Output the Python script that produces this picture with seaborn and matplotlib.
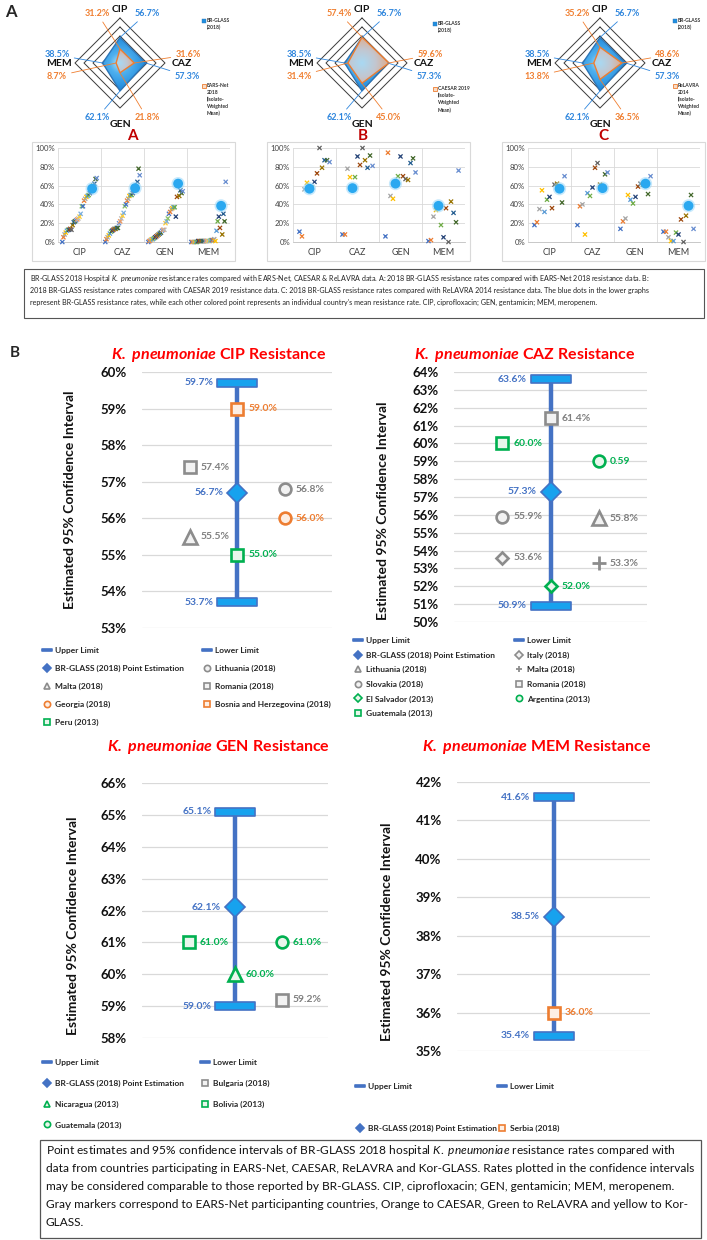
import numpy as np
import pandas as pd
import seaborn as sns
import matplotlib.pyplot as plt
from matplotlib.path import Path
from matplotlib.patches import Polygon, Rectangle
from matplotlib.lines import Line2D
from matplotlib.colors import LinearSegmentedColormap

sns.set_style("white")
plt.rcParams["font.family"] = ["Lato", "DejaVu Sans"]
plt.rcParams["mathtext.fontset"] = "custom"
plt.rcParams["mathtext.rm"] = "Lato"
plt.rcParams["mathtext.it"] = "Lato:italic"
plt.rcParams["mathtext.bf"] = "Lato:bold"
plt.rcParams["mathtext.bfit"] = "Lato:italic:bold"

# ---------------- data ----------------
DRUGS = ["CIP", "CAZ", "GEN", "MEM"]
BR_RATES = [56.7, 57.3, 62.1, 38.5]
EARS_RATES = [31.2, 31.6, 21.8, 8.7]
CAESAR_RATES = [57.4, 59.6, 45.0, 31.4]
RELAVRA_RATES = [35.2, 48.6, 36.5, 13.8]

# country means (lower graphs), one list per drug
EARS_CIP = [0, 5, 8, 10, 12, 13, 13, 14, 13, 18, 21, 22, 23, 24, 25, 27, 30, 38, 38, 44, 46, 48, 49, 50, 52, 55, 60, 62, 67, 68]
EARS_CAZ = [0, 3, 5, 7, 9, 11, 12, 13, 14, 14, 15, 15, 20, 22, 25, 28, 31, 38, 40, 44, 46, 49, 50, 50, 52, 55, 58, 64, 78, 71]
EARS_GEN = [0, 1, 2, 3, 3, 4, 5, 6, 7, 8, 9, 10, 12, 13, 13, 20, 22, 25, 30, 32, 35, 36, 37, 37, 27, 48, 49, 55, 52, 54]
EARS_MEM = [0, 0, 0, 0, 0, 0, 1, 1, 1, 1, 1, 1, 1, 1, 1, 1, 1, 2, 2, 2, 3, 1, 12, 22, 27, 15, 8, 30, 22, 64]

CAESAR_CIP = [11, 6, 56, 63, 58, 64, 73, 100, 79, 87, 87, 85]
CAESAR_CAZ = [8, 8, 78, 69, 69, 91, 82, 100, 87, 79, 92, 81]
CAESAR_GEN = [6, 95, 49, 46, 70, 91, 70, 67, 66, 84, 89, 74]
CAESAR_MEM = [1, 2, 27, 34, 18, 5, 36, 0, 43, 31, 21, 76]

RELAVRA_CIP = [18, 21, 35, 55, 32, 45, 48, 36, 61, 62, 42, 70]
RELAVRA_CAZ = [18, 38, 40, 8, 52, 49, 58, 79, 84, 61, 72, 74]
RELAVRA_GEN = [14, 22, 25, 50, 45, 41, 48, 59, 62, 61, 51, 70]
RELAVRA_MEM = [11, 11, 5, 1, 1, 10, 8, 24, 0, 28, 50, 14]

# confidence interval panels
CIP_NAMES = ["Upper Limit", "Lower Limit", "BR-GLASS (2018) Point Estimation", "Lithuania (2018)",
             "Malta (2018)", "Romania (2018)", "Georgia (2018)", "Bosnia and Herzegovina (2018)", "Peru (2013)"]
CIP_VALUES = [59.7, 53.7, 56.7, 56.8, 55.5, 57.4, 56.0, 59.0, 55.0]
CIP_SLOTS = [1, 1, 1, 1.5, 0.5, 0.5, 1.5, 1, 1]
CIP_NETS = ["BR", "BR", "BR", "EARS", "EARS", "EARS", "CAESAR", "CAESAR", "ReLAVRA"]

CAZ_NAMES = ["Upper Limit", "Lower Limit", "BR-GLASS (2018) Point Estimation", "Italy (2018)",
             "Lithuania (2018)", "Malta (2018)", "Slovakia (2018)", "Romania (2018)",
             "El Salvador (2013)", "Argentina (2013)", "Guatemala (2013)"]
CAZ_VALUES = [63.6, 50.9, 57.3, 53.6, 55.8, 53.3, 55.9, 61.4, 52.0, 59.0, 60.0]
CAZ_SLOTS = [1, 1, 1, 0.5, 1.5, 1.5, 0.5, 1, 1, 1.5, 0.5]
CAZ_NETS = ["BR", "BR", "BR", "EARS", "EARS", "EARS", "EARS", "EARS", "ReLAVRA", "ReLAVRA", "ReLAVRA"]

GEN_NAMES = ["Upper Limit", "Lower Limit", "BR-GLASS (2018) Point Estimation", "Bulgaria (2018)",
             "Nicaragua (2013)", "Bolivia (2013)", "Guatemala (2013)"]
GEN_VALUES = [65.1, 59.0, 62.1, 59.2, 60.0, 61.0, 61.0]
GEN_SLOTS = [1, 1, 1, 1.5, 1, 0.5, 1.5]
GEN_NETS = ["BR", "BR", "BR", "EARS", "ReLAVRA", "ReLAVRA", "ReLAVRA"]

MEM_NAMES = ["Upper Limit", "Lower Limit", "BR-GLASS (2018) Point Estimation", "Serbia (2018)"]
MEM_VALUES = [41.6, 35.4, 38.5, 36.0]
MEM_SLOTS = [1, 1, 1, 1]
MEM_NETS = ["BR", "BR", "BR", "CAESAR"]

LABEL_OVERRIDE = {("CAZ", "Argentina (2013)"): "0.59"}

# ---------------- styles ----------------
CIP_MARKS = ["cap", "cap", "point", "o", "^", "s", "o", "s", "s"]
CAZ_MARKS = ["cap", "cap", "point", "D", "^", "+", "o", "s", "D", "o", "s"]
GEN_MARKS = ["cap", "cap", "point", "s", "^", "s", "o"]
MEM_MARKS = ["cap", "cap", "point", "s"]

PALETTE = ["#4472C4", "#ED7D31", "#A5A5A5", "#FFC000", "#5B9BD5", "#70AD47",
           "#264478", "#9E480E", "#636363", "#997300", "#255E91", "#43682B",
           "#698ED0", "#F1975A", "#B7B7B7", "#FFCD33", "#7CAFDD", "#8CC168"]
NET_EDGE = {"BR": "#4472c4", "EARS": "#8c8c8c", "CAESAR": "#ed7d31", "ReLAVRA": "#00b050"}
NET_FILL = {"EARS": "#f2f2f2", "CAESAR": "#fdeee3", "ReLAVRA": "#e9f6ec"}
NET_TEXT = {"BR": "#4472c4", "EARS": "#7f7f7f", "CAESAR": "#ed7d31", "ReLAVRA": "#00b050"}
CAP = Path([(-3, -0.55), (3, -0.55), (3, 0.55), (-3, 0.55), (-3, -0.55)],
           [Path.MOVETO, Path.LINETO, Path.LINETO, Path.LINETO, Path.CLOSEPOLY])
SKY = "#17a2ee"

W, H = 707, 1240
fig = plt.figure(figsize=(W / 100, H / 100), dpi=100)


def fx(x):
    return x / W


def fy(y):
    return 1 - y / H


def px_axes(l, t, r, b):
    return fig.add_axes([l / W, 1 - b / H, (r - l) / W, (b - t) / H])


def box(l, t, r, b, color, lw):
    fig.add_artist(Rectangle((fx(l), fy(b)), (r - l) / W, (b - t) / H, transform=fig.transFigure,
                             fill=False, edgecolor=color, lw=lw))


# ---------------- radar charts ----------------
ANGLES = np.deg2rad([90, 0, -90, 180])
RING = np.deg2rad([90, 0, -90, 180, 90])
BR_LAB = [(0.6, 1.11), (1.49, -0.29), (-0.51, -1.22), (-1.4, 0.18)]
OT_LAB = [(-0.51, 1.11), (1.51, 0.18), (0.6, -1.22), (-1.4, -0.29)]
DRUG_LAB = [(0, 1.2), (1.38, 0), (0, -1.36), (-1.36, 0)]
blue_cm = LinearSegmentedColormap.from_list("b", [(0, "#b8e3f6"), (0.35, "#4fb0ee"), (1, "#1683da")])
oran_cm = LinearSegmentedColormap.from_list("o", [(0, "#a9d9f3"), (0.5, "#c3c6cf"), (1, "#e2a882")])
yy, xx = np.mgrid[-1:1:240j, -1:1:240j]
dist = np.hypot(xx, yy)


def radar(cx, cy, other, leg_dx, leg_y, leg_text, letter_x, letter):
    ax = px_axes(cx - 80, cy - 80, cx + 80, cy + 80)
    ax.axis("off")
    for lv in [0.2, 0.4, 0.6, 0.8, 1.0]:
        ax.plot(lv * np.cos(RING), lv * np.sin(RING), color="#3a3a3a", lw=0.7, zorder=1)
    for rates, cm, edge, z in [(BR_RATES, blue_cm, "#2e75b6", 2), (other, oran_cm, "#ed7d31", 4)]:
        r = np.array(rates) / 100
        pts = np.column_stack([r * np.cos(ANGLES), r * np.sin(ANGLES)])
        poly = Polygon(pts, closed=True, facecolor="none", edgecolor=edge, lw=1.0, zorder=z + 1)
        ax.add_patch(poly)
        im = ax.imshow(dist / r.max(), cmap=cm, vmin=0, vmax=1.05, extent=(-1, 1, -1, 1),
                       origin="lower", zorder=z, interpolation="bilinear")
        im.set_clip_path(poly)
    lim = 80 / 45
    ax.set_xlim(-lim, lim)
    ax.set_ylim(-lim, lim)
    for k in range(4):
        for rates, pos, col in [(BR_RATES, BR_LAB, "#2f86dd"), (other, OT_LAB, "#f07f30")]:
            v = rates[k] / 100
            ax.annotate(f"{rates[k]:.1f}%", xy=(v * np.cos(ANGLES[k]), v * np.sin(ANGLES[k])),
                        xytext=pos[k], ha="center", va="center", color=col, fontsize=6.5,
                        fontweight="bold", zorder=8,
                        arrowprops=dict(arrowstyle="-", color=col, lw=0.6, shrinkA=1, shrinkB=0))
        ax.text(*DRUG_LAB[k], DRUGS[k], ha="center", va="center", fontsize=7.5, fontweight="bold",
                color="#111111")
    lx = cx + leg_dx
    fig.add_artist(Rectangle((fx(lx - 2), fy(leg_y[0] + 2)), 4 / W, 4 / H, transform=fig.transFigure,
                             facecolor="#1f8fe0", edgecolor="#2e75b6", lw=0.3))
    fig.add_artist(Rectangle((fx(lx - 2), fy(leg_y[1] + 2)), 4 / W, 4 / H, transform=fig.transFigure,
                             facecolor="#f9dcc6", edgecolor="#ed7d31", lw=0.6))
    fig.text(fx(lx + 3), fy(leg_y[0] - 3), "BR-GLASS\n(2018)", fontsize=3.6, va="top",
             linespacing=1.45, color="#333333", fontweight="bold")
    fig.text(fx(lx + 3), fy(leg_y[1] - 3), leg_text, fontsize=3.6, va="top",
             linespacing=1.45, color="#333333", fontweight="bold")
    fig.text(fx(letter_x), fy(136), letter, fontsize=11, fontweight="bold", color="#c00000",
             ha="center", va="center")


radar(120, 63, EARS_RATES, 84, (21, 86), "EARS-Net\n2018\n(Isolate-\nWeighted\nMean)", 132, "A")
radar(362, 63, CAESAR_RATES, 73, (24, 89), "CAESAR 2019\n(Isolate-\nWeighted\nMean)", 363, "B")
radar(600, 63, RELAVRA_RATES, 75, (21, 86), "ReLAVRA\n2014\n(Isolate-\nWeighted\nMean)", 603, "C")
fig.text(fx(5), fy(12), "A", fontsize=12, fontweight="bold", va="center")


# ---------------- lower scatter graphs ----------------
def scatter_panel(x0, country_values, nslots, span, br_slot):
    box(x0 + 32, 142, x0 + 235, 261, "#d9d9d9", 0.8)
    ax = px_axes(x0 + 58, 148, x0 + 230, 242)
    offsets = np.linspace(-span, span, nslots)
    slots = [s for s in range(nslots) if s != br_slot]
    rows = []
    for j, vals in enumerate(country_values):
        for s, v in zip(slots, vals):
            rows.append({"x": j + offsets[s], "y": v, "slot": str(s)})
    df = pd.DataFrame(rows)
    pal = {str(s): PALETTE[s % len(PALETTE)] for s in slots}
    sns.scatterplot(data=df, x="x", y="y", hue="slot", palette=pal, marker="x", s=9, linewidth=0.9,
                    legend=False, ax=ax, zorder=3, clip_on=False)
    bx = np.arange(4) + offsets[br_slot]
    ax.scatter(bx, BR_RATES, s=90, color="#9ad8fb", alpha=0.55, edgecolors="none", zorder=4, clip_on=False)
    ax.scatter(bx, BR_RATES, s=50, color="#2aa8f0", edgecolors="none", zorder=5, clip_on=False)
    ax.set_xlim(-0.5, 3.5)
    ax.set_ylim(0, 100)
    ax.set_xticks(range(4))
    ax.set_xticklabels(DRUGS, fontsize=6.5, color="#404040")
    ax.set_xticks(np.arange(-0.5, 4, 1), minor=True)
    ax.set_yticks(range(0, 101, 20))
    ax.set_yticklabels([f"{v}%" for v in range(0, 101, 20)], fontsize=5.6, color="#404040")
    ax.grid(axis="y", which="major", color="#d9d9d9", lw=0.6)
    ax.grid(axis="x", which="minor", color="#d9d9d9", lw=0.6)
    ax.tick_params(which="both", length=0)
    ax.tick_params(axis="x", pad=4)
    ax.tick_params(axis="y", pad=2)
    ax.set_xlabel("")
    ax.set_ylabel("")
    for side, sp in ax.spines.items():
        sp.set_visible(side == "bottom")
    ax.spines["bottom"].set_color("#bfbfbf")
    ax.spines["bottom"].set_linewidth(0.6)


scatter_panel(0, [EARS_CIP, EARS_CAZ, EARS_GEN, EARS_MEM], 31, 0.4, 26)
scatter_panel(235, [CAESAR_CIP, CAESAR_CAZ, CAESAR_GEN, CAESAR_MEM], 13, 0.35, 4)
scatter_panel(470, [RELAVRA_CIP, RELAVRA_CAZ, RELAVRA_GEN, RELAVRA_MEM], 13, 0.35, 10)

box(24, 269, 704, 318, "#555555", 0.8)
cap_a = [
    r"BR-GLASS 2018 Hospital $\mathit{K.\ pneumoniae}$ resistance rates compared with EARS-Net, CAESAR & ReLAVRA data. A: 2018 BR-GLASS resistance rates compared with EARS-Net 2018 resistance data. B:",
    "2018 BR-GLASS resistance rates compared with CAESAR 2019 resistance data. C: 2018 BR-GLASS resistance rates compared with ReLAVRA 2014 resistance data. The blue dots in the lower graphs",
    "represent BR-GLASS resistance rates, while each other colored point represents an individual country's mean resistance rate. CIP, ciprofloxacin; GEN, gentamicin; MEM, meropenem.",
]
for i, line in enumerate(cap_a):
    fig.text(fx(30), fy(279 + 11.5 * i), line, fontsize=5.1, va="center", color="#222222")


# ---------------- confidence interval panels ----------------
def mstyle(mark, net, small=False):
    edge = NET_EDGE[net]
    if mark == "cap":
        return dict(marker=CAP, ms=7 if small else 29, mfc="#4472c4" if small else SKY, mec=edge, mew=1.2)
    if mark == "point":
        return dict(marker="D", ms=4.2 if small else 10, mfc="#4472c4" if small else SKY, mec=edge, mew=1.2)
    if mark == "+":
        return dict(marker="+", ms=5 if small else 10, mec=edge, mew=1.3 if small else 2.0)
    size = {"o": 8.5, "s": 9, "^": 9.5, "D": 6.5}[mark]
    return dict(marker=mark, ms=4.5 if small else size, mfc=NET_FILL[net], mec=edge,
                mew=1.2 if small else 1.9)


def ci_panel(drug, rect, names, values, slots, marks, nets, ylim, title_xy, ylab_xy,
             leg_x, leg_top, pitch):
    ax = px_axes(*rect)
    ax.vlines(slots[0], values[1], values[0], color="#4472c4", lw=3.2, zorder=2)
    for name, v, s, m, n in zip(names, values, slots, marks, nets):
        ax.plot([s], [v], ls="none", zorder=4 if n == "BR" else 3, clip_on=False, **mstyle(m, n))
        txt = LABEL_OVERRIDE.get((drug, name), f"{v:.1f}%")
        if n == "BR":
            dx = -17 if m == "cap" else -10
            ha = "right"
        else:
            dx, ha = 8, "left"
        ax.annotate(txt, xy=(s, v), xytext=(dx, 0), textcoords="offset points", ha=ha, va="center",
                    fontsize=7.5, fontweight="bold", color=NET_TEXT[n], zorder=5)
    ax.set_xlim(0, 2)
    ax.set_ylim(*ylim)
    ticks = np.arange(ylim[0], ylim[1] + 1)
    ax.set_yticks(ticks)
    ax.set_yticklabels([f"{t}%" for t in ticks], fontweight="bold", fontsize=9.5, color="#111111")
    ax.set_xticks([])
    ax.grid(axis="y", color="#d9d9d9", lw=0.9)
    ax.grid(axis="x", visible=False)
    ax.tick_params(axis="y", length=0, pad=11)
    for sp in ax.spines.values():
        sp.set_visible(False)
    fig.text(fx(title_xy[0]), fy(title_xy[1]), r"$\mathbfit{K.\ pneumoniae}$ " + drug + " Resistance",
             color="#ff0000", fontsize=11.5, fontweight="bold", ha="center", va="center")
    fig.text(fx(ylab_xy[0]), fy(ylab_xy[1]), "Estimated 95% Confidence Interval", rotation=90,
             fontsize=10, fontweight="bold", ha="center", va="center", color="#111111")
    items = [(Line2D([], [], ls="none", **mstyle(m, n, small=True)), name)
             for name, m, n in zip(names, marks, nets)]
    for c, x in enumerate(leg_x):
        col = items[c::2]
        fig.legend([h for h, _ in col], [l for _, l in col], loc="upper left",
                   bbox_to_anchor=(fx(x - 4), fy(leg_top - 3)), frameon=False,
                   prop={"weight": "bold", "size": 6}, labelcolor="#262626", handlelength=1.0,
                   handletextpad=0.4, borderpad=0, borderaxespad=0,
                   labelspacing=(pitch - 7.4) / 8.33)


fig.text(fx(10), fy(353), "B", fontsize=11, fontweight="bold", va="center")
ci_panel("CIP", (142, 372, 332, 628), CIP_NAMES, CIP_VALUES, CIP_SLOTS, CIP_MARKS, CIP_NETS,
         (53, 60), (219, 355), (70, 500), (47, 207), 650, 18.2)
ci_panel("CAZ", (454, 372, 647, 622), CAZ_NAMES, CAZ_VALUES, CAZ_SLOTS, CAZ_MARKS, CAZ_NETS,
         (50, 64), (525, 355), (383, 511), (358, 519), 640, 14.8)
ci_panel("GEN", (142, 783, 328, 1038), GEN_NAMES, GEN_VALUES, GEN_SLOTS, GEN_MARKS, GEN_NETS,
         (58, 66), (218, 747), (73, 926), (47, 205), 1062, 21)
ci_panel("MEM", (457, 782, 650, 1051), MEM_NAMES, MEM_VALUES, MEM_SLOTS, MEM_MARKS, MEM_NETS,
         (35, 42), (537, 747), (387, 932), (360, 502), 1086, 42)

box(40, 1140, 701, 1238, "#555555", 0.9)
cap_b = [
    r"Point estimates and 95% confidence intervals of BR-GLASS 2018 hospital $\mathit{K.\ pneumoniae}$ resistance rates compared with",
    "data from countries participating in EARS-Net, CAESAR, ReLAVRA and Kor-GLASS. Rates plotted in the confidence intervals",
    "may be considered comparable to those reported by BR-GLASS. CIP, ciprofloxacin; GEN, gentamicin; MEM, meropenem.",
    "Gray markers correspond to EARS-Net participanting countries, Orange to CAESAR, Green to ReLAVRA and yellow to Kor-",
    "GLASS.",
]
for i, line in enumerate(cap_b):
    fig.text(fx(46), fy(1151 + 17.8 * i), line, fontsize=8.6, va="center", color="#111111")

fig.savefig("out.png", dpi=100)
